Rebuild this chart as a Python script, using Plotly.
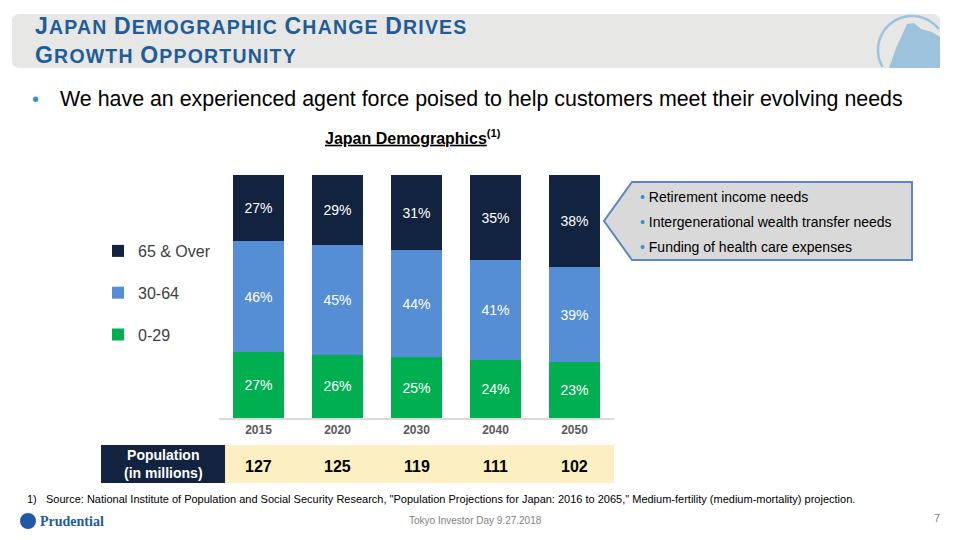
import numpy as np
import plotly.graph_objects as go

# data
years = ["2015", "2020", "2030", "2040", "2050"]
age_0_29 = [27, 26, 25, 24, 23]
age_30_64 = [46, 45, 44, 41, 39]
age_65_over = [27, 29, 31, 35, 38]
population = [127, 125, 119, 111, 102]

callout_lines = [
    "Retirement income needs",
    "Intergenerational wealth transfer needs",
    "Funding of health care expenses",
]

W, H = 960, 540
OFF = 8  # the page body adds an 8px margin, so slide pixels are shifted back by it
NAVY = "#12233F"
BLUE = "#558ED5"
GREEN = "#00B050"
TITLE_BLUE = "#1F5C99"
TEAL = "#2B95CF"


def px(x):
    return (x - OFF) / W


def py(y):
    return 1 - (y - OFF) / H


def path(points):
    s = "M " + " L ".join(f"{px(x):.5f},{py(y):.5f}" for x, y in points)
    return s + " Z"


def small_caps(txt, small=19.5, spacing=1.2):
    # first letter of each word full size, rest as smaller capitals
    sp = f"letter-spacing:{spacing}px"
    words = []
    for w in txt.split(" "):
        words.append(f"<span style='{sp}'>{w[0]}</span>"
                     f"<span style='font-size:{small}px;{sp}'>{w[1:].upper()}</span>")
    return " ".join(words)


fig = go.Figure()

legend_rank = {"65 & Over": 1, "30-64": 2, "0-29": 3}
for name, vals, col in [("0-29", age_0_29, GREEN),
                        ("30-64", age_30_64, BLUE),
                        ("65 & Over", age_65_over, NAVY)]:
    fig.add_trace(
        go.Bar(x=years,
               y=vals,
               name=name,
               legendgroup=name,
               legendrank=legend_rank[name],
               marker=dict(color=col, line=dict(width=0)),
               text=[f"{v}%" for v in vals],
               textposition="inside",
               insidetextanchor="middle",
               textangle=0,
               textfont=dict(color="white", size=14,
                             family="Liberation Sans, Arial")))

shapes = []
annotations = []

# header band with rounded corners
r = 8
x0, x1, y0, y1 = 12, 940, 14, 68
shapes.append(dict(
    type="path", xref="paper", yref="paper",
    path=(f"M {px(x0 + r)},{py(y0)} L {px(x1 - r)},{py(y0)} "
          f"Q {px(x1)},{py(y0)} {px(x1)},{py(y0 + r)} "
          f"L {px(x1)},{py(y1 - r)} Q {px(x1)},{py(y1)} {px(x1 - r)},{py(y1)} "
          f"L {px(x0 + r)},{py(y1)} Q {px(x0)},{py(y1)} {px(x0)},{py(y1 - r)} "
          f"L {px(x0)},{py(y0 + r)} Q {px(x0)},{py(y0)} {px(x0 + r)},{py(y0)} Z"),
    fillcolor="#E7E7E6", line=dict(width=0), layer="below"))

# logo in the header: clipped circle + rock
ang = np.linspace(0, 2 * np.pi, 200)
cx, cy, cr = 912, 50, 34
pts = [(cx + cr * np.cos(a), cy - cr * np.sin(a)) for a in ang]
pts = [(x, y) for x, y in pts if x <= x1 - 1 and y <= y1 - 1]
# start the arc at the gap so it is one open line
k = int(np.argmax([abs(pts[i][0] - pts[i - 1][0]) + abs(pts[i][1] - pts[i - 1][1]) for i in range(len(pts))]))
pts = pts[k:] + pts[:k]
shapes.append(dict(
    type="path", xref="paper", yref="paper",
    path="M " + " L ".join(f"{px(x):.5f},{py(y):.5f}" for x, y in pts),
    line=dict(color="#9DC3DC", width=2.5)))
shapes.append(dict(
    type="path", xref="paper", yref="paper",
    path=path([(889, 68), (896, 48), (903, 33), (907, 24), (914, 23),
               (921, 29), (932, 32), (940, 37), (940, 68)]),
    fillcolor="#9DC3DC", line=dict(width=0)))

for txt, yy in [("Japan Demographic Change Drives", 26),
                ("Growth Opportunity", 55)]:
    annotations.append(dict(
        x=px(33), y=py(yy), xref="paper", yref="paper", xanchor="left",
        yanchor="middle", showarrow=False,
        text=f"<b>{small_caps(txt)}</b>",
        font=dict(family="Liberation Sans, Arial", size=23,
                  color=TITLE_BLUE)))

# bullet line
annotations.append(dict(
    x=px(30), y=py(99), xref="paper", yref="paper", xanchor="left",
    yanchor="middle", showarrow=False,
    text=f"<span style='color:{TEAL}'>•</span>",
    font=dict(family="Liberation Sans, Arial", size=20)))
annotations.append(dict(
    x=px(58), y=py(99), xref="paper", yref="paper", xanchor="left",
    yanchor="middle", showarrow=False,
    text="We have an experienced agent force poised to help customers meet their evolving needs",
    font=dict(family="Liberation Sans, Arial", size=21.4, color="black")))

# chart title
annotations.append(dict(
    x=px(413), y=py(137), xref="paper", yref="paper", xanchor="center",
    yanchor="middle", showarrow=False,
    text="<b><u>Japan Demographics</u><sup>(1)</sup></b>",
    font=dict(family="Liberation Sans, Arial", size=16, color="black")))

# callout arrow box
shapes.append(dict(
    type="path", xref="paper", yref="paper",
    path=path([(632, 182), (912, 182), (912, 260), (632, 260), (604, 221)]),
    fillcolor="#D9D9D9", line=dict(color="#5B87C0", width=2)))
for i, line in enumerate(callout_lines):
    annotations.append(dict(
        x=px(638), y=py(197 + 25 * i), xref="paper", yref="paper",
        xanchor="left", yanchor="middle", showarrow=False,
        text=f"<span style='color:{TEAL}'>•</span> {line}",
        font=dict(family="Liberation Sans, Arial", size=14, color="black")))

# population row
shapes.append(dict(type="rect", xref="paper", yref="paper",
                   x0=px(101), x1=px(225), y0=py(445), y1=py(483),
                   fillcolor=NAVY, line=dict(width=0)))
shapes.append(dict(type="rect", xref="paper", yref="paper",
                   x0=px(225), x1=px(614), y0=py(445), y1=py(483),
                   fillcolor="#FCF0C2", line=dict(width=0)))
annotations.append(dict(
    x=px(163), y=py(464), xref="paper", yref="paper", xanchor="center",
    yanchor="middle", showarrow=False,
    text="<b>Population<br>(in millions)</b>",
    font=dict(family="Liberation Sans, Arial", size=14, color="white")))
for i, pop in enumerate(population):
    annotations.append(dict(
        x=i, y=py(466), xref="x", yref="paper", xanchor="center",
        yanchor="middle", showarrow=False, text=f"<b>{pop}</b>",
        font=dict(family="Liberation Sans, Arial", size=16, color="black")))

# footnote and footer
annotations.append(dict(
    x=px(25), y=py(499), xref="paper", yref="paper", xanchor="left",
    yanchor="middle", showarrow=False,
    text=("1)   Source: National Institute of Population and Social Security Research, "
          "\"Population Projections for Japan: 2016 to 2065,\" Medium-fertility "
          "(medium-mortality) projection."),
    font=dict(family="Liberation Sans Narrow, Liberation Sans, Arial", size=11,
              color="black")))
annotations.append(dict(
    x=px(475), y=py(520), xref="paper", yref="paper", xanchor="center",
    yanchor="middle", showarrow=False, text="Tokyo Investor Day 9.27.2018",
    font=dict(family="Liberation Sans, Arial", size=10, color="#7F7F7F")))
annotations.append(dict(
    x=px(937), y=py(518), xref="paper", yref="paper", xanchor="center",
    yanchor="middle", showarrow=False, text="7",
    font=dict(family="Liberation Sans, Arial", size=11, color="#7F7F7F")))
shapes.append(dict(type="circle", xref="paper", yref="paper",
                   x0=px(20), x1=px(36), y0=py(513), y1=py(529),
                   fillcolor="#2059A8", line=dict(width=0)))
annotations.append(dict(
    x=px(38), y=py(521), xref="paper", yref="paper", xanchor="left",
    yanchor="middle", showarrow=False, text="<b>Prudential</b>",
    font=dict(family="Liberation Serif, Times New Roman", size=14,
              color="#2059A8")))

fig.update_layout(
    width=W, height=H,
    margin=dict(l=0, r=0, t=0, b=0),
    paper_bgcolor="white", plot_bgcolor="white",
    barmode="stack", bargap=0.355,
    font=dict(family="Liberation Sans, Arial"),
    showlegend=True,
    legend=dict(x=px(98), y=py(234), xanchor="left", yanchor="top",
                traceorder="grouped", tracegroupgap=18,
                font=dict(size=16, color="#404040"),
                bgcolor="rgba(0,0,0,0)"),
    xaxis=dict(domain=[px(219), px(614)], type="category",
               range=[-0.5, 4.5], showline=True, linecolor="#D9D9D9",
               linewidth=1.5, ticks="", showgrid=False,
               tickfont=dict(size=12, color="#595959",
                             family="Liberation Sans, Arial"),
               tickprefix="<b>", ticksuffix="</b>"),
    yaxis=dict(domain=[py(418), py(175)], range=[0, 100], visible=False,
               fixedrange=True),
    shapes=shapes,
    annotations=annotations,
)

fig.write_html("out.html")
